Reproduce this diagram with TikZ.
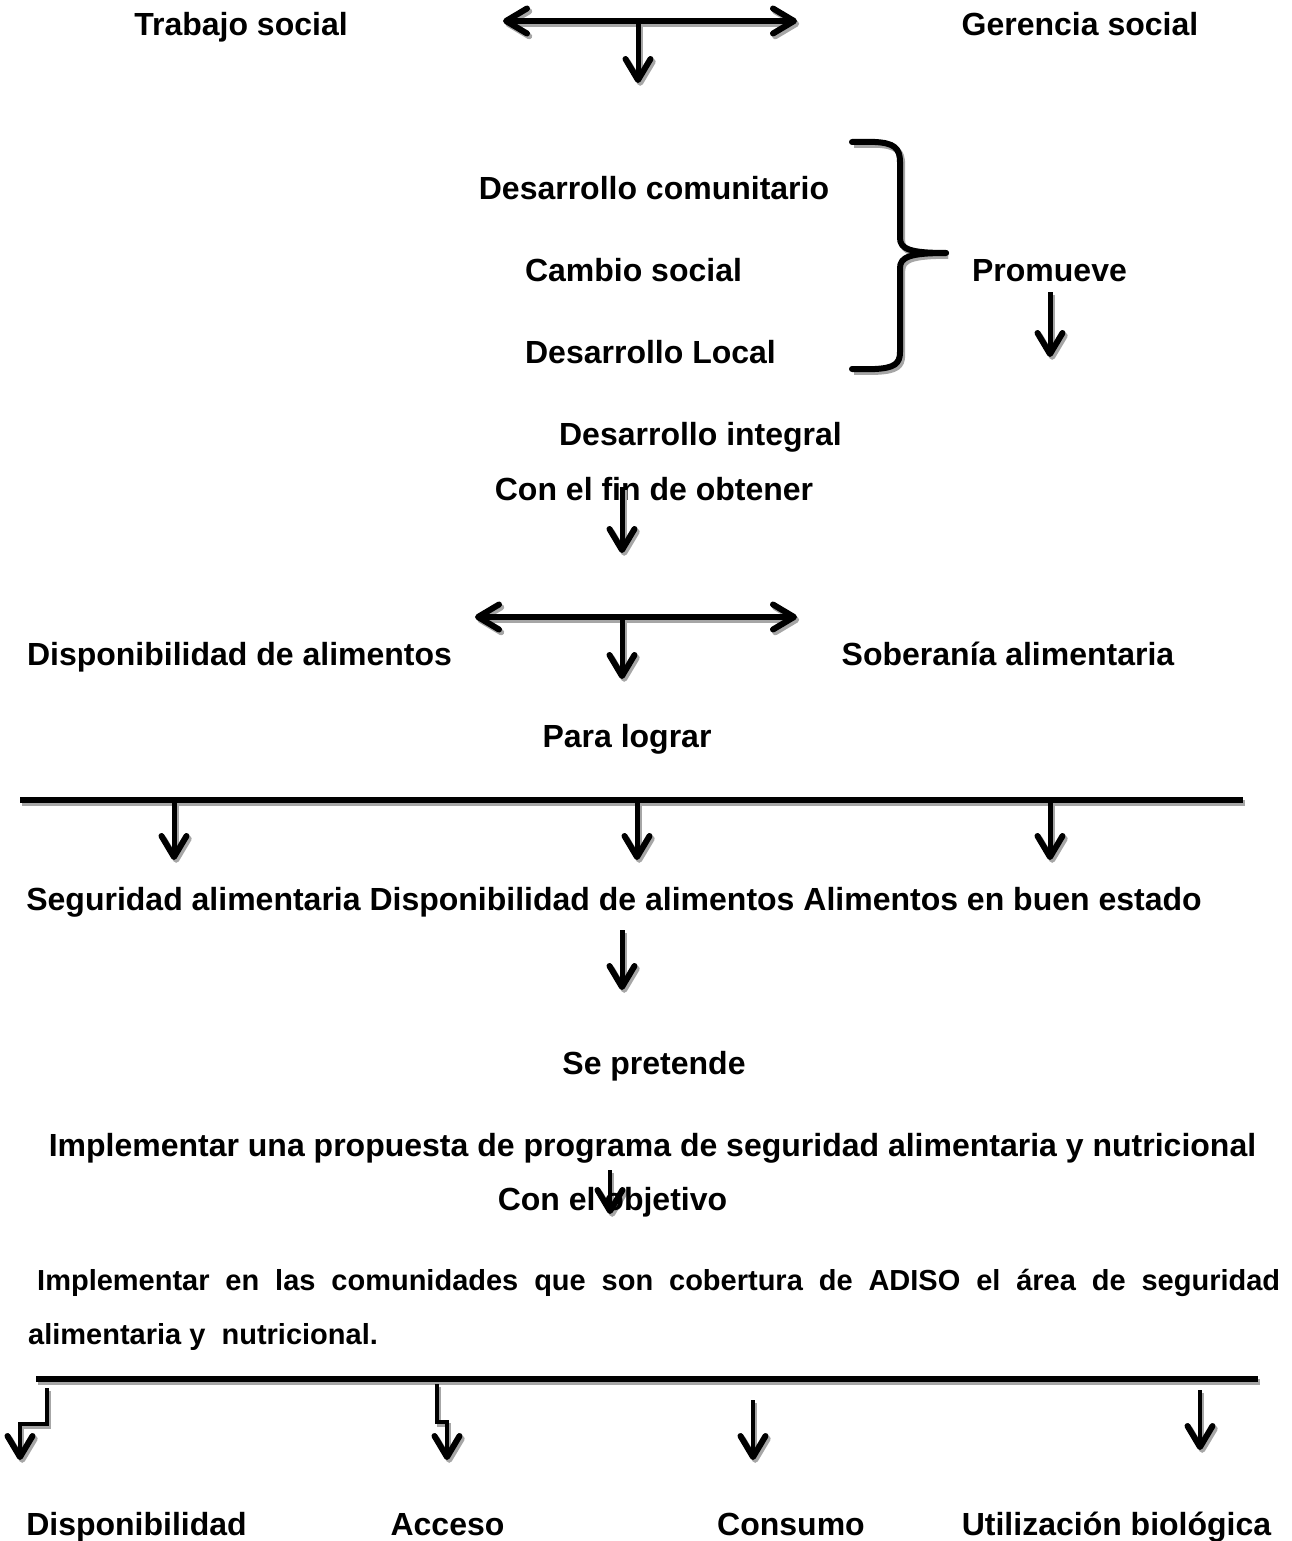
\documentclass[tikz,border=0pt]{standalone}
\usepackage{fontspec}
\setmainfont{Liberation Sans}
\usetikzlibrary{arrows.meta}
\begin{document}
\begin{tikzpicture}[x=1pt,y=-1pt,
  lbl/.style={font=\bfseries\fontsize{32}{38}\selectfont, inner sep=0pt, text height=22.5pt, text depth=6.5pt},
  para/.style={font=\bfseries\fontsize{29}{34}\selectfont, inner sep=0pt, text height=20.5pt, text depth=6pt},
  shadowed/.style={line width=#1, preaction={draw=black!35, line width=#1, transform canvas={shift={(2.2pt,-2.8pt)}}}},
  barb/.tip={Straight Barb[length=21pt,width=25pt,line width=6pt,round]},
  darr/.style={shadowed=5pt, -barb},
  darrs/.style={shadowed=4.5pt, -barb},
  dblarr/.style={shadowed=6pt, barb-barb},
  bar/.style={shadowed=6pt},
  brace/.style={shadowed=6pt, line join=round, line cap=round}]
\useasboundingbox (0,0) rectangle (1292,1541);

% top
\node[lbl] (ts) at (241,28) {Trabajo social};
\node[lbl] (gs) at (1080,28) {Gerencia social};
\coordinate (t1l) at (503,21);
\coordinate (t1r) at (797,21);
\coordinate (t1m) at (638,21);
\coordinate (t1d) at (638,83);
\draw[dblarr] (t1l) -- (t1r);
\draw[darr] (t1m) -- (t1d);

% brace group
\node[lbl] (dc) at (654,192) {Desarrollo comunitario};
\node[lbl] (cs) at (633.5,273) {Cambio social};
\node[lbl] (dl) at (650.5,355) {Desarrollo Local};
\coordinate (bt) at (852,142);
\coordinate (bm) at (946,253);
\coordinate (bb) at (852,369);
\draw[brace] (bt) -- (875,142) .. controls (894,143) and (900,148) .. (900,162) -- (900,238) .. controls (900,249) and (910,253) .. (bm);
\draw[brace] (bm) .. controls (910,253) and (900,257) .. (900,268) -- (900,352) .. controls (900,364) and (894,368) .. (875,369) -- (bb);
\node[lbl] (pr) at (1049.5,273) {Promueve};
\coordinate (pa1) at (1050,292);
\coordinate (pa2) at (1050,357);
\draw[darr] (pa1) -- (pa2);

\node[lbl] (di) at (700.5,437) {Desarrollo integral};
\node[lbl] (cf) at (654,492) {Con el fin de obtener};
\coordinate (ca1) at (622,487);
\coordinate (ca2) at (622,553);
\draw[darr] (ca1) -- (ca2);

% second double arrow
\coordinate (t2l) at (475,617);
\coordinate (t2r) at (797,617);
\coordinate (t2m) at (622,617);
\coordinate (t2d) at (622,679);
\draw[dblarr] (t2l) -- (t2r);
\draw[darr] (t2m) -- (t2d);
\node[lbl] (da) at (239.5,657) {Disponibilidad de alimentos};
\node[lbl] (sa) at (1008,657) {Soberanía alimentaria};
\node[lbl] (pl) at (627,739) {Para lograr};

% first bar
\coordinate (h1l) at (20,800);
\coordinate (h1r) at (1243,800);
\draw[bar] (h1l) -- (h1r);
\coordinate (h1a) at (174,800);
\coordinate (h1ad) at (174,860);
\coordinate (h1b) at (637,800);
\coordinate (h1bd) at (637,860);
\coordinate (h1c) at (1050,800);
\coordinate (h1cd) at (1050,860);
\draw[darr] (h1a) -- (h1ad);
\draw[darr] (h1b) -- (h1bd);
\draw[darr] (h1c) -- (h1cd);
\node[lbl] (sg) at (614,902) {Seguridad alimentaria Disponibilidad de alimentos Alimentos en buen estado};
\coordinate (sga1) at (622,930);
\coordinate (sga2) at (622,990);
\draw[darr] (sga1) -- (sga2);

\node[lbl] (sp) at (654,1066) {Se pretende};
\node[lbl] (ip) at (652.5,1148) {Implementar una propuesta de programa de seguridad alimentaria y nutricional};
\coordinate (oa1) at (610,1170);
\coordinate (oa2) at (610,1214);
\draw[darrs] (oa1) -- (oa2);
\node[lbl] (co) at (612.5,1202) {Con el objetivo};

\node[para, anchor=west] (p1) at (37,1283) {\makebox[1243pt][s]{Implementar en las comunidades que son cobertura de ADISO el área de seguridad}};
\node[para, anchor=west] (p2) at (28,1337) {alimentaria y\ \ nutricional.};

% second bar
\coordinate (h2l) at (36,1379);
\coordinate (h2r) at (1258,1379);
\draw[bar] (h2l) -- (h2r);
\coordinate (e1a) at (47,1388);
\coordinate (e1d) at (20,1460);
\draw[darrs, line join=miter] (e1a) -- (47,1424) -- (20,1424) -- (e1d);
\coordinate (e2a) at (437,1384);
\coordinate (e2d) at (447,1460);
\draw[darrs, line join=miter] (e2a) -- (437,1422) -- (447,1422) -- (e2d);
\coordinate (e3a) at (753,1400);
\coordinate (e3d) at (753,1460);
\draw[darrs] (e3a) -- (e3d);
\coordinate (e4a) at (1200,1390);
\coordinate (e4d) at (1200,1450);
\draw[darrs] (e4a) -- (e4d);

\node[lbl] (b1) at (136.5,1527) {Disponibilidad};
\node[lbl] (b2) at (447.5,1527) {Acceso};
\node[lbl] (b3) at (791,1527) {Consumo};
\node[lbl] (b4) at (1116.5,1527) {Utilización biológica};
\end{tikzpicture}
\end{document}
